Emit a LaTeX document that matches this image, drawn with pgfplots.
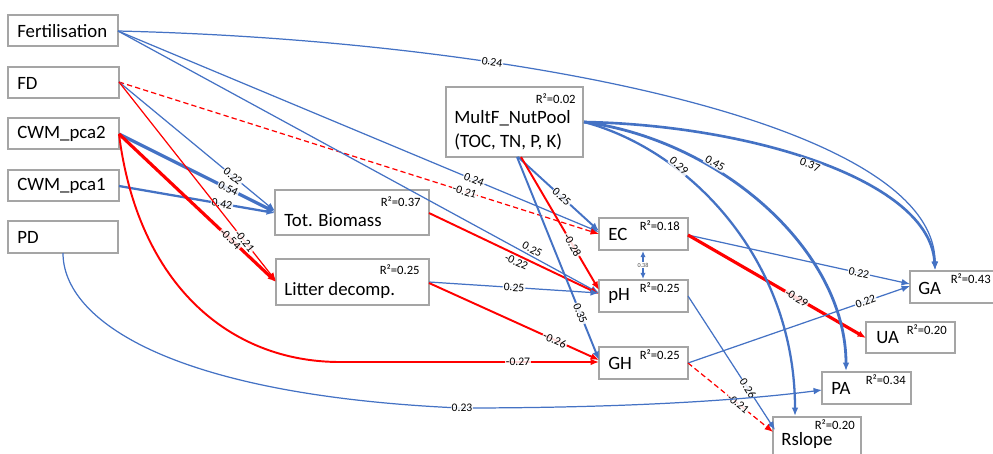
\documentclass[border=0pt]{standalone}
\usepackage{fontspec}
\setmainfont{Carlito}
\usepackage{pgfplots}
\pgfplotsset{compat=1.18}
\usetikzlibrary{arrows.meta}
\definecolor{eb}{RGB}{68,114,196}
\definecolor{er}{RGB}{255,0,0}
\definecolor{bx}{RGB}{165,165,165}
\tikzset{
  lab/.style={font=\fontsize{6.6}{7}\selectfont, text=black, fill=white, fill opacity=0.85, text opacity=1, inner sep=0.6pt, sloped},
  labr/.style={font=\fontsize{6.6}{7}\selectfont, text=black, fill=white, fill opacity=0.85, text opacity=1, inner sep=0.6pt},
  tn/.style={line width=0.7pt},
  md/.style={line width=1.1pt},
  tk/.style={line width=1.8pt},
  ar/.style={-{Latex[length=4.8pt,width=3.8pt]}},
  dsh/.style={dash pattern=on 3pt off 1.8pt}}
\newcommand{\bx}[4]{\draw[bx, line width=0.6pt, fill=white] (axis cs:#1,#2) rectangle (axis cs:#3,#4);}
\newcommand{\bt}[3]{\node[anchor=west, inner sep=0pt, font=\fontsize{10.7}{12}\selectfont] at (axis cs:#1,#2) {#3};}
\newcommand{\rr}[3]{\node[anchor=east, inner sep=0pt, font=\fontsize{7.2}{8}\selectfont] at (axis cs:#1,#2) {R²=#3};}
\begin{document}
\begin{tikzpicture}
\useasboundingbox (0,0) rectangle (19.86,9.06);
\clip (0,0) rectangle (19.86,9.06);
\begin{axis}[scale only axis, width=19.86cm, height=9.06cm,
  xmin=0, xmax=993, ymin=0, ymax=453, y dir=reverse, hide axis, clip=false,
  at={(0,0)}, anchor=south west]
% boxes
\bx{8}{15}{118}{46}
\bx{8}{67}{119}{98}
\bx{8}{118}{119}{149}
\bx{8}{170}{119}{201}
\bx{8}{221}{118}{253}
\bx{275}{190}{429}{235}
\bx{276}{259}{429}{305}
\bx{446}{87}{583}{157}
\bx{599}{218}{688}{250}
\bx{599}{280}{688}{312}
\bx{599}{347}{688}{379}
\bx{910}{271}{1010}{303}
\bx{866}{322}{955}{353}
\bx{822}{372}{911}{404}
\bx{773}{417}{861}{470}
\bt{17}{31}{Fertilisation}
\bt{17}{83}{FD}
\bt{17}{134}{CWM\_pca2}
\bt{17}{186}{CWM\_pca1}
\bt{17}{237}{PD}
\bt{284}{220}{Tot. Biomass}
\bt{284}{290}{Litter decomp.}
\bt{454}{118}{MultF\_NutPool}
\bt{454}{142}{(TOC, TN, P, K)}
\bt{608}{234}{EC}
\bt{608}{296}{pH}
\bt{608}{363}{GH}
\bt{918}{288}{GA}
\bt{876}{338}{UA}
\bt{831}{388}{PA}
\bt{781}{440}{Rslope}
\rr{421}{202}{0.37}
\rr{420}{270}{0.25}
\rr{576}{99}{0.02}
\rr{680}{226}{0.18}
\rr{680}{288}{0.25}
\rr{680}{355}{0.25}
\rr{991}{279}{0.43}
\rr{947}{330}{0.20}
\rr{906}{380}{0.34}
\rr{855}{425}{0.20}
% straight paths
\addplot[eb, tn, ar, mark=none] coordinates {(118,31) (599,232)} node[lab, pos=0.74] {0.24};
\addplot[er, tn, ar, dsh, mark=none] coordinates {(119,82) (599,234)} node[lab, pos=0.72] {-0.21};
\addplot[eb, tn, ar, mark=none] coordinates {(118,31) (599,293)} node[lab, pos=0.855, above=0.4pt] {0.25};
\addplot[eb, tn, ar, mark=none] coordinates {(119,82) (275,211)} node[lab, pos=0.73] {0.22};
\addplot[eb, tk, ar, mark=none] coordinates {(119,134) (275,212)} node[lab, pos=0.70] {0.54};
\addplot[eb, line width=1.3pt, ar, mark=none] coordinates {(119,186) (275,213)} node[lab, pos=0.66] {0.42};
\addplot[er, tk, ar, mark=none] coordinates {(119,134) (276,282)} node[lab, pos=0.71] {-0.54};
\addplot[er, tn, ar, mark=none] coordinates {(119,82) (276,281)} node[lab, pos=0.80] {-0.21};
\addplot[er, md, ar, mark=none] coordinates {(429,213) (599,294)} node[lab, pos=0.53, below=0.4pt] {-0.22};
\addplot[eb, tn, ar, mark=none] coordinates {(429,282) (599,293)} node[lab, pos=0.5] {0.25};
\addplot[er, md, ar, mark=none] coordinates {(429,283) (599,360)} node[lab, pos=0.74] {-0.26};
\addplot[eb, md, ar, mark=none] coordinates {(518,157) (599,231)} node[lab, pos=0.54] {0.25};
\addplot[er, md, ar, mark=none] coordinates {(521,157) (599,290)} node[lab, pos=0.66] {-0.28};
\addplot[eb, md, ar, mark=none] coordinates {(517,157) (599,360)} node[lab, pos=0.77] {0.35};
\addplot[eb, tn, ar, mark=none] coordinates {(688,235) (910,284)} node[lab, pos=0.77] {0.22};
\addplot[er, tk, ar, mark=none] coordinates {(688,235) (866,338)} node[lab, pos=0.61] {-0.29};
\addplot[eb, tn, ar, mark=none] coordinates {(688,363) (910,286)} node[lab, pos=0.80] {0.22};
\addplot[eb, tn, ar, mark=none] coordinates {(688,296) (775,430)} node[lab, pos=0.69] {0.26};
\addplot[er, tn, ar, dsh, mark=none] coordinates {(688,363) (773,432)} node[lab, pos=0.59] {-0.21};
\addplot[eb, tn, {Latex[length=3.5pt,width=3pt]}-{Latex[length=3.5pt,width=3pt]}, mark=none] coordinates {(643,251) (643,279)} node[pos=0.5, text=black!70, fill=white, inner sep=0.3pt, font=\fontsize{3.5}{4}\selectfont] {0.38};
% curved paths
\draw[eb, tn, ar] (axis cs:118,31) .. controls (axis cs:500,40) and (axis cs:935,120) .. (axis cs:935,270);
\node[labr, rotate=-9] at (axis cs:492,62) {0.24};
\draw[eb, line width=1.5pt, ar] (axis cs:584,122) .. controls (axis cs:750,125) and (axis cs:930,180) .. (axis cs:935,270);
\node[labr, rotate=-20] at (axis cs:810,165) {0.37};
\draw[eb, line width=1.6pt, ar] (axis cs:584,122) .. controls (axis cs:720,140) and (axis cs:846,250) .. (axis cs:846,371);
\node[labr, rotate=-30] at (axis cs:715,163) {0.45};
\draw[eb, line width=1.3pt, ar] (axis cs:584,122) .. controls (axis cs:690,150) and (axis cs:795,260) .. (axis cs:795,416);
\node[labr, rotate=-42] at (axis cs:679,166) {0.29};
\draw[er, md, ar] (axis cs:119,134) .. controls (axis cs:138,285) and (axis cs:230,362) .. (axis cs:340,362) -- (axis cs:599,362);
\node[labr] at (axis cs:518,362) {-0.27};
\draw[eb, tn, ar] (axis cs:63,253) .. controls (axis cs:63,320) and (axis cs:170,395) .. (axis cs:460,408) .. controls (axis cs:650,408) and (axis cs:760,398) .. (axis cs:822,390);
\node[labr] at (axis cs:462,408) {0.23};
\end{axis}
\end{tikzpicture}
\end{document}
